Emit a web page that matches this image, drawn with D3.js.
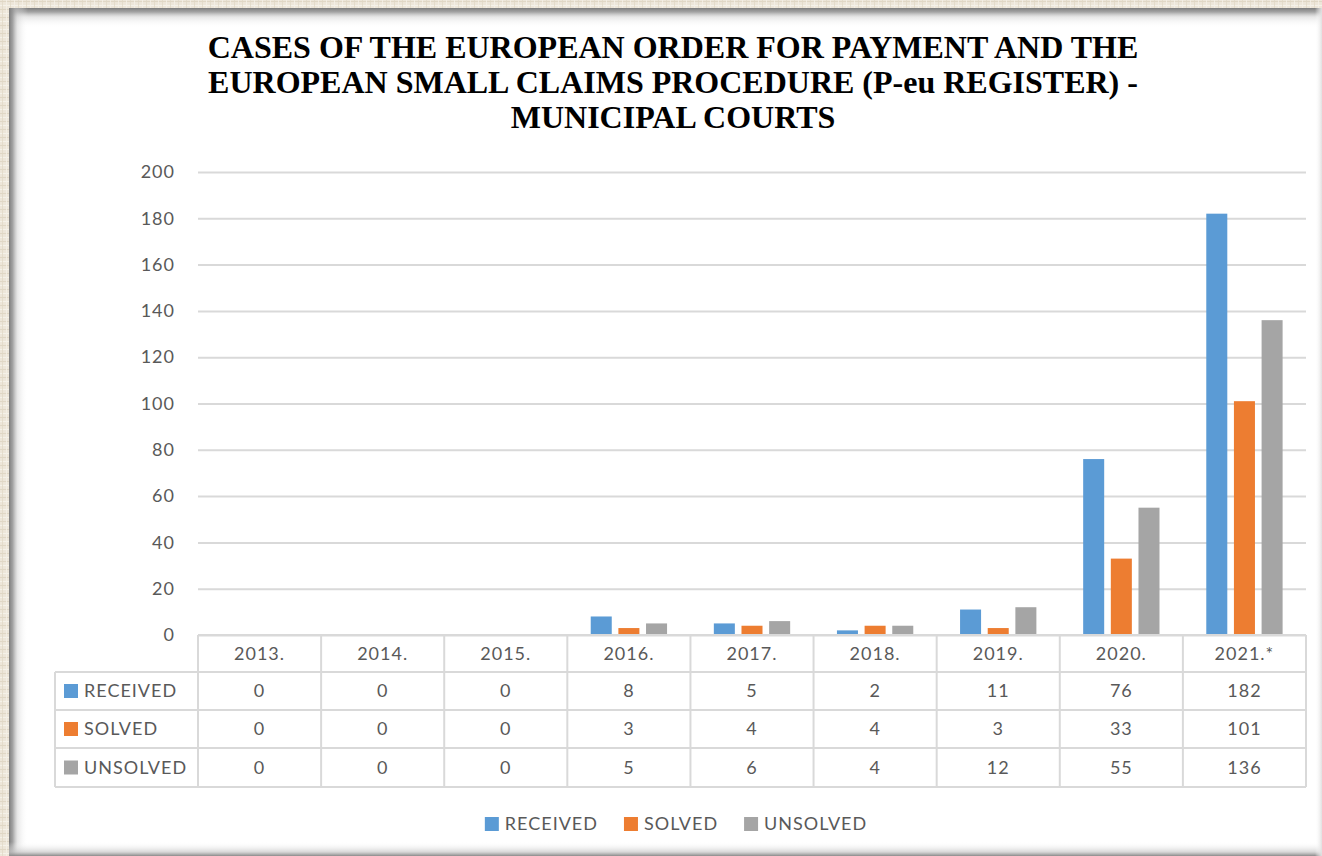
<!DOCTYPE html>
<html>
<head>
<meta charset="utf-8">
<script src="https://cdn.jsdelivr.net/npm/d3@7"></script>
<style>
  html, body { margin: 0; padding: 0; background: #efe9de; overflow: hidden; }
  svg { display: block; }
</style>
</head>
<body>
<svg id="chart" width="1322" height="856"></svg>
<script>
// Categories and series
const years = ["2013.", "2014.", "2015.", "2016.", "2017.", "2018.", "2019.", "2020.", "2021.*"];
const received = [0, 0, 0, 8, 5, 2, 11, 76, 182];
const solved = [0, 0, 0, 3, 4, 4, 3, 33, 101];
const unsolved = [0, 0, 0, 5, 6, 4, 12, 55, 136];
const seriesNames = ["RECEIVED", "SOLVED", "UNSOLVED"];
const seriesColors = ["#5B9BD5", "#ED7D31", "#A5A5A5"];
const yTicks = [0, 20, 40, 60, 80, 100, 120, 140, 160, 180, 200];
const titleLines = [
  "CASES OF THE EUROPEAN ORDER FOR PAYMENT AND THE",
  "EUROPEAN SMALL CLAIMS PROCEDURE (P-eu REGISTER) -",
  "MUNICIPAL COURTS"
];

const seriesValues = [received, solved, unsolved];

const W = 1322, H = 856;
const svg = d3.select("#chart");
const defs = svg.append("defs");

// Linen-like paper texture for the outer frame
const pat = defs.append("pattern")
  .attr("id", "linen").attr("patternUnits", "userSpaceOnUse")
  .attr("width", 8).attr("height", 8);
pat.append("rect").attr("width", 8).attr("height", 8).attr("fill", "#ede6d9");
pat.append("rect").attr("x", 0).attr("y", 1).attr("width", 8).attr("height", 1).attr("fill", "#ddd3c0").attr("opacity", 0.8);
pat.append("rect").attr("x", 0).attr("y", 5).attr("width", 8).attr("height", 1).attr("fill", "#f7f3ec").attr("opacity", 0.9);
pat.append("rect").attr("x", 2).attr("y", 0).attr("width", 1).attr("height", 8).attr("fill", "#e0d7c5").attr("opacity", 0.7);
pat.append("rect").attr("x", 6).attr("y", 0).attr("width", 1).attr("height", 8).attr("fill", "#f5f0e7").attr("opacity", 0.8);

svg.append("rect").attr("width", W).attr("height", H).attr("fill", "url(#linen)");

// White panel
const panel = { x: 9, y: 8, w: W - 9, h: H - 8 };
svg.append("rect").attr("x", panel.x).attr("y", panel.y)
  .attr("width", panel.w).attr("height", panel.h).attr("fill", "#ffffff");

// Inner shadow gradients on the panel edges
function grad(id, x1, y1, x2, y2, stops) {
  const g = defs.append("linearGradient").attr("id", id)
    .attr("x1", x1).attr("y1", y1).attr("x2", x2).attr("y2", y2);
  stops.forEach(s => g.append("stop").attr("offset", s[0]).attr("stop-color", s[1]).attr("stop-opacity", s[2]));
}
grad("shTop", 0, 0, 0, 1, [[0, "#7d7d7d", 1], [0.2, "#9a9a9a", 0.9], [0.45, "#d0d0d0", 0.5], [1, "#ffffff", 0]]);
grad("shLeft", 0, 0, 1, 0, [[0, "#7d7d7d", 1], [0.2, "#9a9a9a", 0.9], [0.45, "#d0d0d0", 0.5], [1, "#ffffff", 0]]);
grad("shBottom", 0, 1, 0, 0, [[0, "#8a8a8a", 1], [0.3, "#c8c8c8", 0.7], [1, "#ffffff", 0]]);
grad("shRight", 1, 0, 0, 0, [[0, "#e0e0e0", 1], [1, "#ffffff", 0]]);

svg.append("rect").attr("x", panel.x).attr("y", panel.y).attr("width", panel.w).attr("height", 20).attr("fill", "url(#shTop)");
svg.append("rect").attr("x", panel.x).attr("y", panel.y).attr("width", 19).attr("height", panel.h).attr("fill", "url(#shLeft)");
svg.append("rect").attr("x", panel.x).attr("y", H - 14).attr("width", panel.w).attr("height", 14).attr("fill", "url(#shBottom)");
svg.append("rect").attr("x", W - 7).attr("y", panel.y).attr("width", 7).attr("height", panel.h).attr("fill", "url(#shRight)");

// Title
const title = svg.append("text")
  .attr("text-anchor", "middle")
  .attr("font-family", "'Liberation Serif', 'Times New Roman', serif")
  .attr("font-weight", "bold")
  .attr("font-size", 32)
  .attr("fill", "#000");
titleLines.forEach((t, i) => {
  title.append("tspan").attr("x", 673).attr("y", 58 + i * 35).text(t);
});

// Scales
const plot = { left: 198, right: 1306, top: 172, bottom: 635 };
const x = d3.scaleBand().domain(years).range([plot.left, plot.right]).padding(0);
const bw = x.bandwidth();
const xs = d3.scaleBand().domain(seriesNames)
  .range([bw * 0.19, bw * 0.81]).paddingInner(0.24).paddingOuter(0);
const y = d3.scaleLinear().domain([0, 200]).range([plot.bottom, plot.top]);

const font = "Lato, 'Open Sans', sans-serif";
const textColor = "#595959";
const gridColor = "#d9d9d9";
const spacing = "1px";

// Y axis with gridlines
const yAxis = svg.append("g")
  .attr("transform", `translate(${plot.left},0)`)
  .call(d3.axisLeft(y).tickValues(yTicks).tickSize(-(plot.right - plot.left)).tickPadding(23));
yAxis.select(".domain").remove();
yAxis.selectAll(".tick line").attr("stroke", gridColor).attr("stroke-width", 2);
yAxis.selectAll(".tick text")
  .attr("font-family", font).attr("font-size", 18).attr("fill", textColor)
  .attr("letter-spacing", spacing);

// Bars
const groups = svg.append("g").selectAll("g")
  .data(years).join("g")
  .attr("transform", d => `translate(${x(d)},0)`);
groups.selectAll("rect")
  .data((d, i) => seriesNames.map((s, k) => ({ s, k, v: seriesValues[k][i] })))
  .join("rect")
  .attr("x", d => xs(d.s))
  .attr("width", xs.bandwidth())
  .attr("y", d => y(d.v))
  .attr("height", d => y(0) - y(d.v))
  .attr("fill", d => seriesColors[d.k]);

// Data table below the plot
const rowH = [37, 38, 38, 39];
const rowY = [plot.bottom];
rowH.forEach((h, i) => rowY.push(rowY[i] + h));
const tableLeft = 55;
const tbl = svg.append("g").attr("stroke", gridColor).attr("stroke-width", 2);

// horizontal rules
tbl.append("line").attr("x1", plot.left).attr("x2", plot.right).attr("y1", rowY[0]).attr("y2", rowY[0]);
for (let r = 1; r < rowY.length; r++) {
  tbl.append("line").attr("x1", tableLeft).attr("x2", plot.right).attr("y1", rowY[r]).attr("y2", rowY[r]);
}
// vertical rules
tbl.append("line").attr("x1", tableLeft).attr("x2", tableLeft).attr("y1", rowY[1]).attr("y2", rowY[4]);
years.forEach(yr => {
  tbl.append("line").attr("x1", x(yr)).attr("x2", x(yr)).attr("y1", rowY[0]).attr("y2", rowY[4]);
});
tbl.append("line").attr("x1", plot.right).attr("x2", plot.right).attr("y1", rowY[0]).attr("y2", rowY[4]);

const txt = svg.append("g")
  .attr("font-family", font).attr("font-size", 18).attr("fill", textColor)
  .attr("letter-spacing", spacing);

// header row: categories
txt.selectAll("text.cat").data(years).join("text")
  .attr("class", "cat")
  .attr("x", d => x(d) + bw / 2)
  .attr("y", (rowY[0] + rowY[1]) / 2)
  .attr("dy", "0.36em")
  .attr("text-anchor", "middle")
  .text(d => d);

// series rows
seriesNames.forEach((s, k) => {
  const cy = (rowY[k + 1] + rowY[k + 2]) / 2;
  svg.append("rect").attr("x", 64).attr("y", cy - 7).attr("width", 14).attr("height", 14)
    .attr("fill", seriesColors[k]);
  txt.append("text").attr("x", 84).attr("y", cy).attr("dy", "0.36em").text(s);
  txt.selectAll(null).data(seriesValues[k]).join("text")
    .attr("x", (d, i) => x(years[i]) + bw / 2)
    .attr("y", cy)
    .attr("dy", "0.36em")
    .attr("text-anchor", "middle")
    .text(d => d);
});

// Legend at the bottom, centered
const legend = svg.append("g").attr("transform", "translate(0,824)");
const items = legend.selectAll("g").data(seriesNames).join("g");
items.append("rect").attr("x", 0).attr("y", -7).attr("width", 14).attr("height", 14)
  .attr("fill", (d, i) => seriesColors[i]);
items.append("text").attr("x", 20).attr("dy", "0.36em")
  .attr("font-family", font).attr("font-size", 18).attr("fill", textColor)
  .attr("letter-spacing", spacing)
  .text(d => d);
const widths = [];
items.each(function () {
  widths.push(this.getBBox().width);
});
const gap = 26;
const total = d3.sum(widths) + gap * (widths.length - 1);
let cx = 676 - total / 2;
items.attr("transform", (d, i) => {
  const t = `translate(${cx},0)`;
  cx += widths[i] + gap;
  return t;
});
</script>
</body>
</html>
